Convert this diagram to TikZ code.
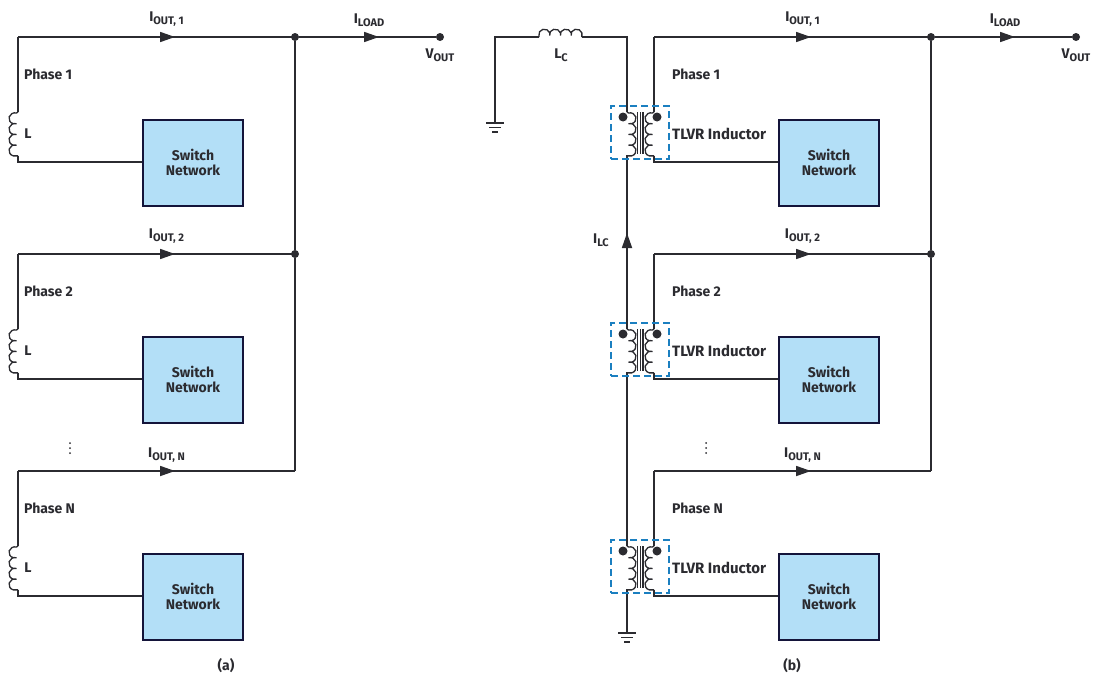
\documentclass[tikz,border=0pt]{standalone}
\usepackage{fontspec}
\setmainfont{Fira Sans}
\usetikzlibrary{arrows.meta,positioning}
\definecolor{wirec}{HTML}{2B2B30}
\definecolor{swfill}{HTML}{B3DFF7}
\definecolor{swline}{HTML}{14143A}
\definecolor{dashc}{HTML}{1B7FC0}
\tikzset{
  wire/.style={draw=wirec,line width=1.7pt},
  coil wire/.style={draw=wirec,line width=1.3pt},
  flow/.style={wire,-{Stealth[inset=0pt,length=15pt,width=10pt]}},
  swbox/.style={draw=swline,fill=swfill,line width=2pt,minimum width=100pt,minimum height=86pt,inner sep=0pt,align=center,font=\bfseries\fontsize{14}{15}\selectfont,text=wirec},
  lbl/.style={inner sep=0pt,font=\bfseries\fontsize{14}{14}\selectfont,text=wirec},
  jdot/.style={circle,fill=wirec,inner sep=0pt,minimum size=8pt},
  tdot/.style={circle,fill=wirec,inner sep=0pt,minimum size=9pt},
  tlvr/.style={draw=dashc,line width=1.5pt,dash pattern=on 7pt off 4pt,minimum width=58pt,minimum height=53pt,inner sep=0pt},
}
% coil: start point, start angle, sweep, step to the first cusp
\newcommand{\vcoil}[4]{\draw[coil wire] #1 -- ++(#4,1) \foreach \c in {1,...,4} {arc[start angle=#2,delta angle=#3,x radius=6pt,y radius=5.55pt]} -- ++(-#4,0);}
\newcommand{\sbs}[1]{\raisebox{-2.5pt}{\fontsize{11}{11}\selectfont #1}}
\newcommand{\gnd}[1]{%
  \draw[wire] ([xshift=-9pt]#1) -- ([xshift=9pt]#1);
  \draw[wire] ([xshift=-6pt,yshift=-4.5pt]#1) -- ([xshift=6pt,yshift=-4.5pt]#1);
  \draw[wire] ([xshift=-3pt,yshift=-9pt]#1) -- ([xshift=3pt,yshift=-9pt]#1);}
\begin{document}
\begin{tikzpicture}[x=1pt,y=-1pt]
  \useasboundingbox (0,0) rectangle (1095,680);
  % (a) and (b) share the bus and the switch networks
  \foreach \p/\dx/\wx in {a/0/18,b/636/654} {
    \node[jdot] (\p j1) at (295+\dx,37) {};
    \node[jdot] (\p j2) at (295+\dx,254) {};
    \node[jdot] (\p vout) at (440+\dx,37) {};
    \coordinate (\p bend) at (295+\dx,471);
    \coordinate (\p load) at (379+\dx,37);
    \draw[wire] (\p j1) -- (\p vout);
    \draw[flow] (\p j1) -- (\p load);
    \draw[wire] (\p j1) -- (\p j2) -- (\p bend);
    \node[lbl] (\p iload) at (369+\dx,20) {I\sbs{LOAD}};
    \node[lbl] (\p voutl) at (440+\dx,55) {V\sbs{OUT}};
    \foreach \n/\yo/\t/\tl in {1/0/1/19,2/217/2/236,3/434/N/455} {
      \node[swbox] (\p sw\n) at (193+\dx,162.5+\yo) {Switch\\Network};
      \coordinate (\p top\n) at (\wx,37+\yo);
      \coordinate (\p arr\n) at (175+\dx,37+\yo);
      \coordinate (\p bus\n) at (295+\dx,37+\yo);
      \coordinate (\p lo\n) at (\wx,112+\yo);
      \coordinate (\p hi\n) at (\wx,156+\yo);
      \coordinate (\p bot\n) at (\wx,162+\yo);
      \draw[wire] (\p top\n) -- (\p bus\n);
      \draw[flow] (\p top\n) -- (\p arr\n);
      \draw[wire] (\p top\n) -- (\p lo\n);
      \draw[wire] (\p hi\n) -- (\p bot\n) -- (\p sw\n.west |- \p bot\n);
      \node[lbl] (\p iout\n) at (166.5+\dx,\tl) {I\sbs{OUT, \t}};
    }
  }
  % (a) inductors
  \foreach \n/\yo/\t in {1/0/1,2/217/2,3/434/N} {
    \vcoil{(alo\n)}{75}{210}{-1.5}
    \node[lbl,anchor=west] (aph\n) at (24,74.5+\yo) {Phase \t};
    \node[lbl] (al\n) at (28,133.5+\yo) {L};
  }
  \foreach \d in {443,448,453} \fill[wirec] (70,\d) circle (1pt);
  \node[lbl] (acap) at (226,666) {(a)};
  % (b) primary side
  \coordinate (lcl) at (495,37);
  \coordinate (lca) at (539,37);
  \coordinate (lcb) at (582,37);
  \coordinate (lcr) at (627,37);
  \coordinate (gndl) at (495,123);
  \coordinate (gndb) at (627,633);
  \coordinate (ilc) at (627,233);
  \draw[wire] (gndl) -- (lcl) -- (lca);
  \draw[coil wire] (lca) -- ++(0,-1.5) \foreach \c in {1,...,4} {arc[start angle=195,delta angle=-210,x radius=5.55pt,y radius=5pt]} -- ++(0,1.5);
  \draw[wire] (lcb) -- (lcr) -- (gndb);
  \gnd{gndl}
  \gnd{gndb}
  \draw[flow] (gndb) -- (ilc);
  \node[lbl] (lcl1) at (561,55) {L\sbs{C}};
  \node[lbl] (ilcl) at (601,240) {I\sbs{LC}};
  \foreach \n/\yo/\t in {1/0/1,2/217/2,3/434/N} {
    \fill[white] (621,112+\yo) rectangle (660,155+\yo);
    \vcoil{(627,112+\yo)}{105}{-210}{1.5}
    \vcoil{(blo\n)}{75}{210}{-1.5}
    \draw[coil wire] (637.5,112+\yo) -- (637.5,154+\yo);
    \draw[coil wire] (640.3,112+\yo) -- (640.3,154+\yo);
    \draw[coil wire] (643,112+\yo) -- (643,154+\yo);
    \node[tdot] (bdl\n) at (623,117+\yo) {};
    \node[tdot] (bdr\n) at (657,117+\yo) {};
    \node[tlvr] (bt\n) at (640,132.5+\yo) {};
    \node[lbl,anchor=west] (bph\n) at (672,74.5+\yo) {Phase \t};
    \node[lbl,anchor=west,font=\bfseries\fontsize{15}{15}\selectfont] (btl\n) at (672,134+\yo) {TLVR Inductor};
  }
  \foreach \d in {443,448,453} \fill[wirec] (706,\d) circle (1pt);
  \node[lbl] (bcap) at (792,666) {(b)};
\end{tikzpicture}
\end{document}
